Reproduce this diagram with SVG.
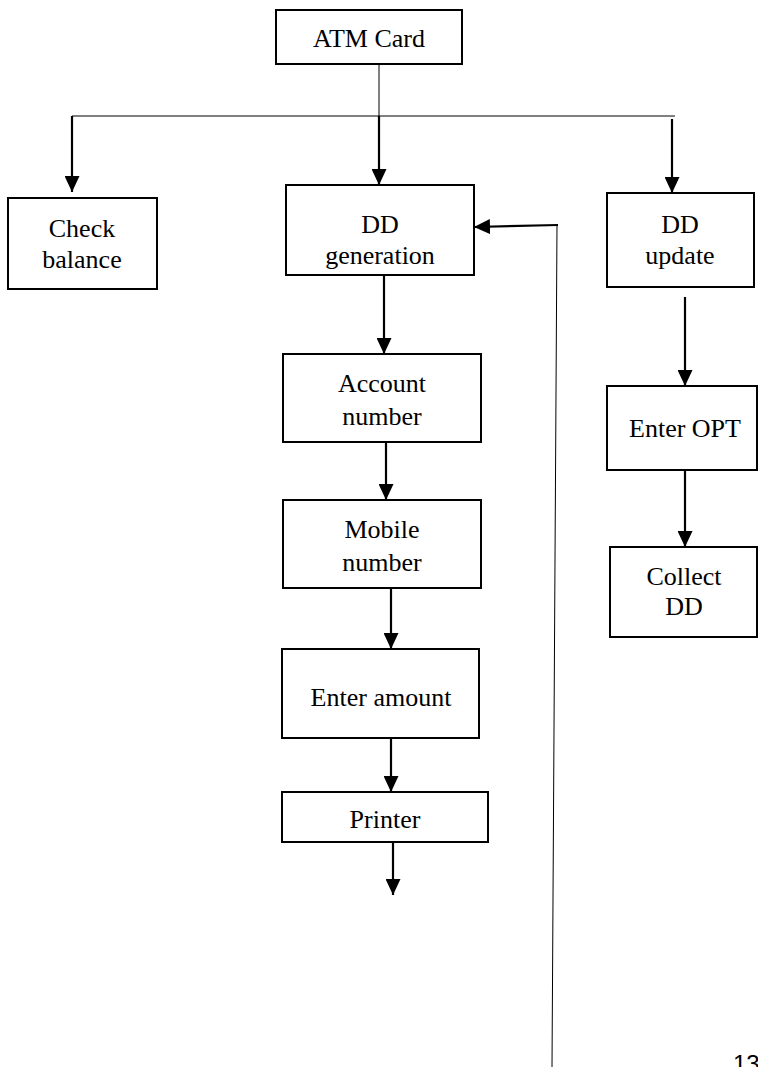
<svg xmlns="http://www.w3.org/2000/svg" width="758" height="1067" viewBox="0 0 758 1067">
<style>
.box{fill:#fff;stroke:#000;stroke-width:2}
.t{font-family:"Liberation Serif","Times New Roman",serif;font-size:26px;fill:#000;text-anchor:middle}
.thin{stroke:#000;stroke-width:1;fill:none}
.arr{stroke:#000;stroke-width:2.2;fill:none;marker-end:url(#ah)}
</style>
<defs>
<marker id="ah" markerUnits="userSpaceOnUse" markerWidth="16" markerHeight="15" refX="16" refY="7.5" orient="auto" viewBox="0 0 16 15">
<path d="M0,0 L16,7.5 L0,15 z" fill="#000"/>
</marker>
</defs>
<rect width="758" height="1067" fill="#fff"/>
<g id="connectors">
<line class="thin" x1="379" y1="64" x2="379" y2="116"/>
<line class="thin" x1="72" y1="116" x2="675" y2="116"/>
<line class="arr" x1="72" y1="116" x2="72" y2="192"/>
<line class="arr" x1="379" y1="116" x2="379" y2="185"/>
<line class="arr" x1="672" y1="119" x2="672" y2="193"/>
<line class="arr" x1="384" y1="275" x2="384" y2="354"/>
<line class="arr" x1="386" y1="442" x2="386" y2="500"/>
<line class="arr" x1="391" y1="588" x2="391" y2="649"/>
<line class="arr" x1="391" y1="738" x2="391" y2="792"/>
<line class="arr" x1="393" y1="842" x2="393" y2="895"/>
<line class="arr" x1="685" y1="297" x2="685" y2="386"/>
<line class="arr" x1="685" y1="470" x2="685" y2="547"/>
<line class="thin" x1="552" y1="1067" x2="557" y2="225"/>
<line class="arr" x1="558" y1="225" x2="474" y2="227"/>
</g>
<g id="atm"><rect class="box" x="276" y="10" width="186" height="54"/><text class="t" x="369" y="47">ATM Card</text></g>
<g id="check"><rect class="box" x="8" y="198" width="149" height="91"/><text class="t" x="82" y="237">Check</text><text class="t" x="82" y="268">balance</text></g>
<g id="ddgen"><rect class="box" x="286" y="185" width="188" height="90"/><text class="t" x="380" y="233">DD</text><text class="t" x="380" y="264">generation</text></g>
<g id="ddupd"><rect class="box" x="607" y="193" width="147" height="94"/><text class="t" x="680" y="233">DD</text><text class="t" x="680" y="264">update</text></g>
<g id="acct"><rect class="box" x="283" y="354" width="198" height="88"/><text class="t" x="382" y="392">Account</text><text class="t" x="382" y="425">number</text></g>
<g id="mobile"><rect class="box" x="283" y="500" width="198" height="88"/><text class="t" x="382" y="538">Mobile</text><text class="t" x="382" y="571">number</text></g>
<g id="amount"><rect class="box" x="282" y="649" width="197" height="89"/><text class="t" x="381" y="706">Enter amount</text></g>
<g id="printer"><rect class="box" x="282" y="792" width="206" height="50"/><text class="t" x="385" y="828">Printer</text></g>
<g id="opt"><rect class="box" x="607" y="386" width="150" height="84"/><text class="t" x="685" y="437">Enter OPT</text></g>
<g id="collect"><rect class="box" x="610" y="547" width="147" height="90"/><text class="t" x="684" y="585">Collect</text><text class="t" x="684" y="615">DD</text></g>
<text x="733" y="1072" style="font-family:'Liberation Sans',Arial,sans-serif;font-size:24px;fill:#000">13</text>
</svg>
